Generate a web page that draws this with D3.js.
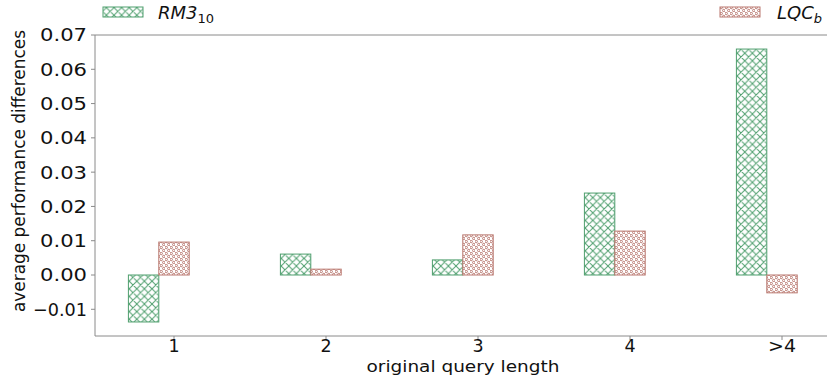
<!DOCTYPE html>
<html><head><meta charset="utf-8">
<script src="https://cdn.jsdelivr.net/npm/d3@7"></script>
<style>body{margin:0;background:#fff}svg{display:block}</style>
</head><body>
<svg id="c" width="827" height="376"></svg>
<script>
const categories = ["1","2","3","4",">4"];
const rm3 = [-0.0137, 0.0061, 0.0044, 0.0239, 0.0659];
const lqc = [0.0096, 0.0017, 0.0117, 0.0128, -0.0052];
const yTicks = [-0.01,0,0.01,0.02,0.03,0.04,0.05,0.06,0.07];

const svg = d3.select("#c");
const L = 95, T = 35, B = 336;
const step = 152, x0 = 174;
const x = d3.scaleLinear().domain([0,1]).range([x0, x0+step]);
const y = d3.scaleLinear().domain([0,0.07]).range([275,35]);
const R = x(4.52);
const green = "#4f9f6e", red = "#b9776e", axisCol = "#8a8a8a";

const defs = svg.append("defs");
const pg = defs.append("pattern").attr("id","hg").attr("patternUnits","userSpaceOnUse").attr("width",7.6).attr("height",7.6);
pg.append("rect").attr("width",7.6).attr("height",7.6).attr("fill","#fff");
pg.append("path").attr("d","M0,0L7.6,7.6M7.6,0L0,7.6M-1,6.6L1,8.6M6.6,-1L8.6,1").attr("stroke",green).attr("stroke-width",1);
const pr = defs.append("pattern").attr("id","hr").attr("patternUnits","userSpaceOnUse").attr("width",5).attr("height",6);
pr.append("rect").attr("width",5).attr("height",6).attr("fill","#fff");
pr.append("circle").attr("cx",1.25).attr("cy",1.5).attr("r",1.2).attr("fill","none").attr("stroke",red).attr("stroke-width",1);
pr.append("circle").attr("cx",3.75).attr("cy",4.5).attr("r",1.2).attr("fill","none").attr("stroke",red).attr("stroke-width",1);

// bars
const bw = x(0.2)-x(0);
svg.append("g").selectAll("rect").data(rm3).join("rect")
  .attr("x",(d,i)=>x(i-0.3)).attr("width",bw)
  .attr("y",d=>y(Math.max(0,d))).attr("height",d=>Math.abs(y(d)-y(0)))
  .attr("fill","url(#hg)").attr("stroke",green).attr("stroke-width",1);
svg.append("g").selectAll("rect").data(lqc).join("rect")
  .attr("x",(d,i)=>x(i-0.1)).attr("width",bw)
  .attr("y",d=>y(Math.max(0,d))).attr("height",d=>Math.abs(y(d)-y(0)))
  .attr("fill","url(#hr)").attr("stroke",red).attr("stroke-width",1);

// spines
svg.append("path").attr("d",`M${L},${T}H${R}`).attr("stroke",axisCol).attr("fill","none");
svg.append("path").attr("d",`M${L},${B}H${R}`).attr("stroke",axisCol).attr("fill","none");
svg.append("path").attr("d",`M${L},${T}V${B}`).attr("stroke",axisCol).attr("fill","none");

// y axis
const yg = svg.append("g").attr("font-family","DejaVu Sans").attr("font-size",18);
yTicks.forEach(t=>{
  yg.append("line").attr("x1",L-4).attr("x2",L).attr("y1",y(t)).attr("y2",y(t)).attr("stroke",axisCol);
  yg.append("text").attr("x",L-8).attr("y",y(t)).attr("dy","0.36em").attr("text-anchor","end")
    .attr("textLength",t<0?54:47).attr("lengthAdjust","spacingAndGlyphs")
    .attr("fill","#111").text(t<0?"\u2212"+Math.abs(t).toFixed(2):t.toFixed(2));
});
// x axis
const xg = svg.append("g").attr("font-family","DejaVu Sans").attr("font-size",17.5);
categories.forEach((c,i)=>{
  xg.append("line").attr("x1",x(i)).attr("x2",x(i)).attr("y1",B).attr("y2",B+4).attr("stroke",axisCol);
  const tx = xg.append("text").attr("x",x(i)).attr("y",B+16).attr("text-anchor","middle").attr("fill","#111").text(c);
  if (c.length>1) tx.attr("textLength",28).attr("lengthAdjust","spacingAndGlyphs");
});
svg.append("text").attr("x",463).attr("y",371.5).attr("text-anchor","middle")
  .attr("font-family","DejaVu Sans").attr("font-size",16).attr("fill","#111")
  .attr("textLength",193).attr("lengthAdjust","spacingAndGlyphs").text("original query length");
svg.append("text").attr("transform","translate(25,171) rotate(-90)").attr("text-anchor","middle")
  .attr("font-family","DejaVu Sans").attr("font-size",17).attr("fill","#111")
  .attr("textLength",282).attr("lengthAdjust","spacingAndGlyphs").text("average performance differences");

// legend
svg.append("rect").attr("x",103).attr("y",7).attr("width",40).attr("height",10).attr("fill","url(#hg)").attr("stroke",green);
const t1 = svg.append("text").attr("x",158).attr("y",19).attr("font-family","DejaVu Sans").attr("font-size",18).attr("fill","#111");
t1.append("tspan").attr("font-style","italic").text("RM3");
t1.append("tspan").attr("font-size",13).attr("dy",4).text("10");
svg.append("rect").attr("x",720).attr("y",7).attr("width",40).attr("height",10).attr("fill","url(#hr)").attr("stroke",red);
const t2 = svg.append("text").attr("x",777).attr("y",19).attr("font-family","DejaVu Sans").attr("font-size",18).attr("fill","#111");
t2.append("tspan").attr("font-style","italic").text("LQC");
t2.append("tspan").attr("font-size",13).attr("font-style","italic").attr("dy",4).text("b");
</script>
</body></html>
